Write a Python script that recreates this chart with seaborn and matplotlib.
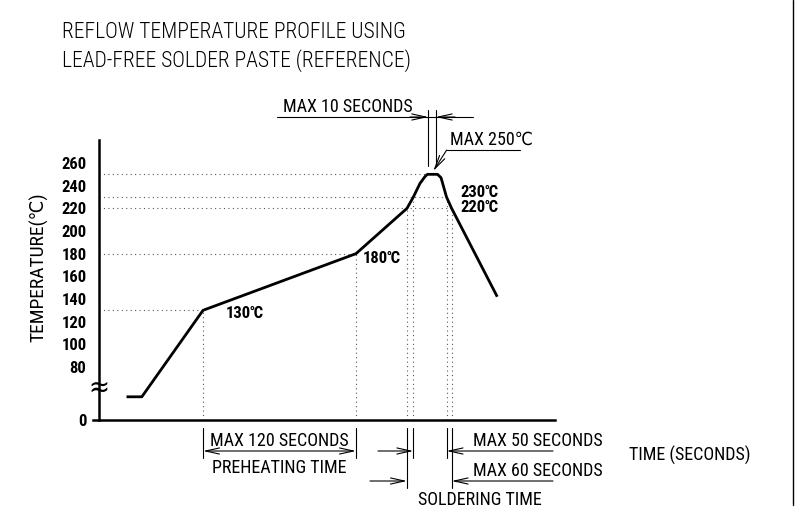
import numpy as np
import matplotlib
matplotlib.use("Agg")
import matplotlib.pyplot as plt
from matplotlib.lines import Line2D
import seaborn as sns
import pandas as pd

# ---------------- data ----------------
time_s = [0, 12, 60, 180, 220, 225, 230.2, 234.1, 236, 244, 246.7, 251, 255, 290.8]
temp_c = [35, 35, 130, 180, 220, 230, 242, 248, 250, 250, 247, 230, 220, 142]

ytick_vals = [0, 80, 100, 120, 140, 160, 180, 200, 220, 240, 260]
ytick_labels = [str(v) for v in ytick_vals]

ref_temps = [130, 180, 220, 230, 250]
ref_end_times = [60, 180, 255, 251, 236]
cross_temps = [130, 180, 220, 230, 230, 220]
cross_times = [60, 180, 220, 225, 251, 255]

point_labels = ["130℃", "180℃", "230℃", "220℃"]
point_label_t = [78, 185.5, 261.6, 261.6]
point_label_T = [127.4, 176, 234.4, 221.2]

preheat_window = [60, 180]
max50_window = [225, 251]
max60_window = [220, 255]
max10_window = [236.7, 242.5]

title_lines = ["REFLOW TEMPERATURE PROFILE USING", "LEAD-FREE SOLDER PASTE (REFERENCE)"]

# ---------------- style ----------------
sns.set_style("white")
FAM = ["Roboto Condensed", "Open Sans Condensed", "DejaVu Sans"]
plt.rcParams["font.family"] = FAM
plt.rcParams["font.stretch"] = "condensed"
for k in ["text.color", "axes.labelcolor", "xtick.color", "ytick.color"]:
    plt.rcParams[k] = "black"

W, H = 795, 517
fig = plt.figure(figsize=(W / 100, H / 100), dpi=100)
ax = fig.add_axes([99 / W, 1 - 420 / H, (555 - 99) / W, 280 / H])

BREAK, K = 80.0, 0.585
def fwd(v):
    v = np.asarray(v, float)
    return np.where(v >= BREAK, v, BREAK - (BREAK - v) * K)
def inv(d):
    d = np.asarray(d, float)
    return np.where(d >= BREAK, d, BREAK - (BREAK - d) / K)
ax.set_yscale("function", functions=(fwd, inv))

XMIN, XMAX = -21.6, 336.1
ax.set_xlim(XMIN, XMAX)
ax.set_ylim(0, 280.3)

df = pd.DataFrame({"t": time_s, "T": temp_c})
sns.lineplot(data=df, x="t", y="T", ax=ax, color="black", lw=2.0, sort=False,
             solid_capstyle="butt", solid_joinstyle="round", zorder=5)

# dotted guides
for T, te in zip(ref_temps, ref_end_times):
    ax.plot([XMIN, te], [T, T], ls=(0, (1, 3)), color="0.35", lw=0.8, zorder=2)
for T, t in zip(cross_temps, cross_times):
    ax.plot([t, t], [0, T], ls=(0, (1, 3)), color="0.35", lw=0.8, zorder=2)

# axes styling
for s in ["top", "right"]:
    ax.spines[s].set_visible(False)
for s in ["left", "bottom"]:
    ax.spines[s].set_linewidth(1.8)
    ax.spines[s].set_color("black")
ax.spines["bottom"].set_bounds(XMIN - 5, XMAX)
ax.set_yticks(ytick_vals)
ax.set_yticklabels(ytick_labels, fontweight="bold")
ax.set_xticks([])
ax.tick_params(axis="y", direction="in", length=6, width=1.8, pad=9,
               labelsize=12, colors="black")
ax.minorticks_off()
ax.set_xlabel("")
ax.set_ylabel("")

# axis break mark
ax.text(0, (420 - 388) / 280, "≈", transform=ax.transAxes, ha="center", va="center",
        fontsize=20, family="DejaVu Sans", fontweight="light", zorder=6)

# point labels
for lab, t, T in zip(point_labels, point_label_t, point_label_T):
    ax.text(t, T, lab, ha="left", va="center", fontsize=12, fontweight="bold", zorder=6)

# ---------------- dimension annotations ----------------
tr = ax.get_xaxis_transform()
def fy(py):
    return (420 - py) / 280

LW = 0.8
def line(x0, x1, y0, y1):
    ax.add_line(Line2D([x0, x1], [y0, y1], transform=tr, color="black", lw=LW, clip_on=False))

def arrow(x_from, x_to, y, style="->"):
    ax.annotate("", xy=(x_to, y), xytext=(x_from, y), xycoords=tr, textcoords=tr,
                arrowprops=dict(arrowstyle=style + ",head_length=1.0,head_width=0.22",
                                lw=LW, color="black", shrinkA=0, shrinkB=0),
                annotation_clip=False)

def t_of(px):
    return 60 + (px - 203) / 1.275

FS = 13
# preheating
for t in preheat_window:
    line(t, t, fy(428), fy(458))
arrow(preheat_window[0], preheat_window[1], fy(451), "<->")
ax.text(sum(preheat_window) / 2, fy(450), "MAX 120 SECONDS", transform=tr, ha="center",
        va="bottom", fontsize=FS, clip_on=False)
ax.text(sum(preheat_window) / 2, fy(468), "PREHEATING TIME", transform=tr, ha="center",
        va="center", fontsize=FS, clip_on=False)

# max 50 / max 60
for t in max50_window:
    line(t, t, fy(428), fy(458))
for t in max60_window:
    line(t, t, fy(428), fy(488))
arrow(t_of(378), max50_window[0], fy(451))
arrow(t_of(553), max50_window[1], fy(451))
arrow(t_of(370), max60_window[0], fy(481))
arrow(t_of(553), max60_window[1], fy(481))
ax.text(t_of(473), fy(450), "MAX 50 SECONDS", transform=tr, ha="left", va="bottom",
        fontsize=FS, clip_on=False)
ax.text(t_of(473), fy(480), "MAX 60 SECONDS", transform=tr, ha="left", va="bottom",
        fontsize=FS, clip_on=False)
ax.text(t_of(480), fy(500), "SOLDERING TIME", transform=tr, ha="center", va="center",
        fontsize=FS, clip_on=False)

# max 10 seconds (top)
for t in max10_window:
    line(t, t, fy(110), fy(166))
line(t_of(277), t_of(472.7), fy(117), fy(117))
arrow(t_of(410), max10_window[0], fy(117))
arrow(t_of(455), max10_window[1], fy(117))
ax.text(t_of(283), fy(116), "MAX 10 SECONDS", transform=tr, ha="left", va="bottom",
        fontsize=FS, clip_on=False)

# max 250
line(t_of(446.7), t_of(520), fy(150), fy(150))
ax.annotate("", xy=(t_of(433.3), fy(171)), xytext=(t_of(446.7), fy(150)),
            xycoords=tr, textcoords=tr,
            arrowprops=dict(arrowstyle="->,head_length=1.0,head_width=0.22", lw=LW,
                            color="black", shrinkA=0, shrinkB=0),
            annotation_clip=False)
ax.text(t_of(450), fy(149), "MAX 250℃", transform=tr, ha="left", va="bottom",
        fontsize=FS, clip_on=False)

# ---------------- figure-level text ----------------
fig.text(62 / W, 1 - 33 / H, title_lines[0], ha="left", va="center", fontsize=15.5,
         fontweight="light")
fig.text(62 / W, 1 - 61 / H, title_lines[1], ha="left", va="center", fontsize=15.5,
         fontweight="light")
fig.text(38.5 / W, 1 - 267 / H, "TEMPERATURE(℃)", rotation=90, ha="center", va="center",
         fontsize=14)
fig.text(690 / W, 1 - 455 / H, "TIME (SECONDS)", ha="center", va="center", fontsize=FS)

fig.add_artist(Line2D([793 / W, 793 / W], [1, 1 - 505 / H], color="black", lw=1.0))

fig.savefig("out.png", dpi=100)
